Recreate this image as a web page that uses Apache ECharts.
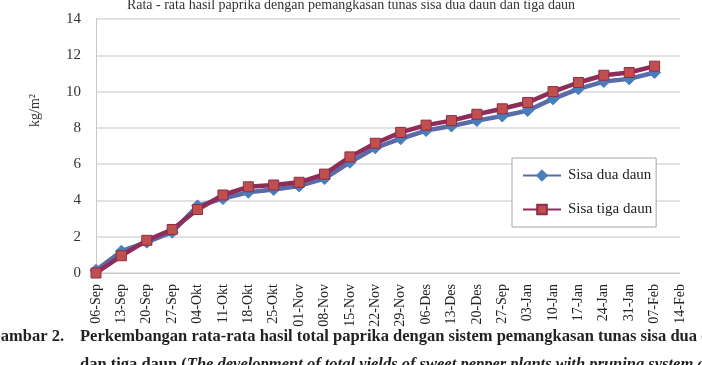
<!DOCTYPE html>
<html>
<head>
<meta charset="utf-8">
<script src="https://cdn.jsdelivr.net/npm/echarts@6/dist/echarts.min.js"></script>
<style>
  html, body { margin: 0; padding: 0; background: #fff; }
  #chart { width: 702px; height: 365px; }
</style>
</head>
<body>
<div id="chart"></div>
<script>
const categories = ["06-Sep", "13-Sep", "20-Sep", "27-Sep", "04-Okt", "11-Okt", "18-Okt", "25-Okt",
  "01-Nov", "08-Nov", "15-Nov", "22-Nov", "29-Nov", "06-Des", "13-Des", "20-Des", "27-Sep",
  "03-Jan", "10-Jan", "17-Jan", "24-Jan", "31-Jan", "07-Feb", "14-Feb"]
const sisaDua = [0.15, 1.2, 1.7, 2.25, 3.7, 4.1, 4.45, 4.6, 4.8, 5.2, 6.1, 6.9, 7.4, 7.85,
  8.1, 8.4, 8.65, 8.95, 9.6, 10.15, 10.55, 10.7, 11.05, null]
const sisaTiga = [0.0, 0.95, 1.8, 2.4, 3.5, 4.3, 4.75, 4.85, 5.0, 5.45, 6.4, 7.15, 7.75, 8.15,
  8.4, 8.75, 9.05, 9.4, 10.0, 10.5, 10.9, 11.05, 11.4, null]
const yTicks = { min: 0, max: 14, interval: 2 }

const serif = "'Liberation Serif', 'DejaVu Serif', serif"
const chart = echarts.init(document.getElementById("chart"))
const option = {
  animation: false,
  textStyle: { fontFamily: serif },
  title: {
    text: "Rata - rata hasil paprika dengan pemangkasan tunas sisa dua daun dan tiga daun",
    left: "center",
    top: -7,
    textStyle: { fontFamily: serif, fontSize: 14, fontWeight: "normal", color: "#333" }
  },
  grid: { left: 96, right: 22, top: 19, bottom: 92 },
  legend: {
    orient: "vertical",
    left: 512,
    top: 158,
    width: 140,
    padding: [10, 4, 10, 10],
    itemGap: 19,
    itemWidth: 38,
    itemHeight: 12,
    borderColor: "#a6a6a6",
    borderWidth: 1,
    backgroundColor: "#fff",
    textStyle: { fontFamily: serif, fontSize: 15, color: "#222", padding: [0, 0, 0, 2] },
    data: ["Sisa dua daun", "Sisa tiga daun"]
  },
  xAxis: {
    type: "category",
    boundaryGap: false,
    data: categories,
    axisLine: { show: true, lineStyle: { color: "#c8c8c8" } },
    axisTick: { show: false },
    axisLabel: {
      rotate: 90,
      interval: 0,
      margin: 11,
      fontFamily: serif,
      fontSize: 14,
      color: "#222"
    }
  },
  yAxis: {
    type: "value",
    min: yTicks.min,
    max: yTicks.max,
    interval: yTicks.interval,
    axisLine: { show: true, lineStyle: { color: "#c8c8c8" } },
    axisTick: { show: false },
    axisLabel: { fontFamily: serif, fontSize: 15, color: "#333", margin: 15 },
    splitLine: { lineStyle: { color: "#d9d9d9", width: 1.5 } }
  },
  series: [
    {
      name: "Sisa dua daun",
      type: "line",
      data: sisaDua,
      symbol: "diamond",
      symbolSize: 12,
      lineStyle: { color: "#5b6aa8", width: 4.5 },
      itemStyle: { color: "#4a7ebb", borderColor: "#4a7ebb", borderWidth: 1 },
      z: 2
    },
    {
      name: "Sisa tiga daun",
      type: "line",
      data: sisaTiga,
      symbol: "rect",
      symbolSize: 10,
      lineStyle: { color: "#8e2c5a", width: 4.5 },
      itemStyle: { color: "#c0504d", borderColor: "#8e2c4a", borderWidth: 1 },
      z: 3
    }
  ],
  graphic: [
    {
      type: "text",
      left: 28,
      top: 94,
      rotation: Math.PI / 2,
      style: { text: "kg/m²", fontFamily: serif, fontSize: 14, fill: "#333" }
    },
    {
      type: "text",
      x: -12,
      y: 328,
      style: { text: "Gambar 2.", fontFamily: serif, fontSize: 16.5, fontWeight: "bold", fill: "#222" }
    },
    {
      type: "text",
      x: 80,
      y: 328,
      style: {
        text: "Perkembangan rata-rata hasil total paprika dengan sistem pemangkasan tunas sisa dua daun",
        fontFamily: serif, fontSize: 16.5, fontWeight: "bold", fill: "#222"
      }
    },
    {
      type: "text",
      x: 80,
      y: 356,
      style: {
        text: "{a|dan tiga daun (}{b|The development of total yields of sweet pepper plants with pruning system at}",
        rich: {
          a: { fontFamily: serif, fontSize: 16.5, fontWeight: "bold", fill: "#222", color: "#222" },
          b: { fontFamily: serif, fontSize: 16.5, fontWeight: "bold", fontStyle: "italic", fill: "#222", color: "#222" }
        }
      }
    }
  ]
}
chart.setOption(option)
</script>
</body>
</html>
